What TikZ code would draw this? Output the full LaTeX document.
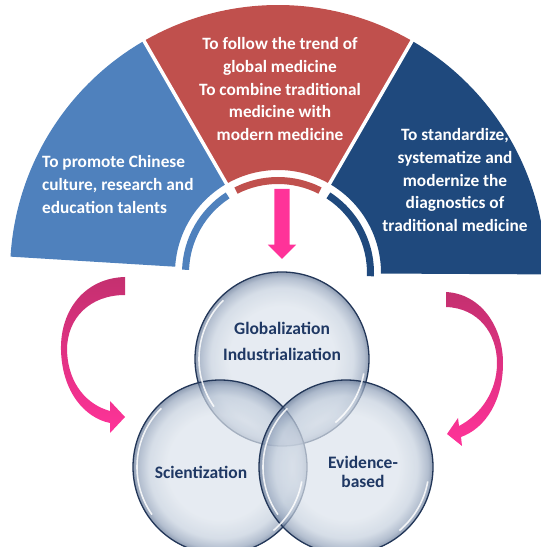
\documentclass[tikz,border=0pt]{standalone}
\usepackage{fontspec}
\setmainfont{Carlito}
\usetikzlibrary{shapes.arrows}

\definecolor{leftblue}{HTML}{4F81BD}
\definecolor{medred}{HTML}{C0504D}
\definecolor{darkblue}{HTML}{1F497D}
\definecolor{arrowpink}{HTML}{FF3399}
\definecolor{arrowdark}{HTML}{C4306F}
\definecolor{navytext}{HTML}{1F3864}
\definecolor{glassA}{HTML}{DCE3EC}
\definecolor{glassB}{HTML}{C4CFDD}
\definecolor{glassC}{HTML}{93A3BB}
\definecolor{glassD}{HTML}{5F7392}
\definecolor{glassrim}{HTML}{223658}
\pgfdeclareradialshading{glass}{\pgfpoint{0bp}{0bp}}{color(0bp)=(glassA); color(15bp)=(glassA); color(20.5bp)=(glassB); color(23.5bp)=(glassC); color(25bp)=(glassD); color(50bp)=(glassD)}

\begin{document}
\begin{tikzpicture}[
    x=1pt, y=1pt,
    sectext/.style={text=white, font=\bfseries\fontsize{17.3}{22.7}\selectfont, align=center, inner sep=0pt},
    bubble/.style={circle, draw=glassrim, line width=1.3pt, shade, shading=glass, fill opacity=0.7, minimum size=174pt, inner sep=0pt},
    shine/.style={white, line width=1.6pt, opacity=0.85},
    bubtext/.style={text=navytext, font=\bfseries\fontsize{17.5}{19.5}\selectfont, align=center, inner sep=0pt},
    downarrow/.style={single arrow, fill=arrowpink, draw=none, rotate=-90, minimum height=70pt, inner sep=7.5pt, single arrow head extend=6.5pt},
    curvearrow/.style={top color=arrowdark, bottom color=arrowpink}
]
    \useasboundingbox (0,0) rectangle (541,547);

    % Fan of three aims
    \coordinate (fan) at (278,274);
    \begin{scope}[shift={(fan)}]
        \fill[leftblue] (120:103) arc[start angle=120, end angle=176.5, radius=103] -- (176.5:268) arc[start angle=176.5, end angle=120, radius=268] -- cycle;
        \fill[medred] (60:103) arc[start angle=60, end angle=120, radius=103] -- (120:268) arc[start angle=120, end angle=60, radius=268] -- cycle;
        \fill[darkblue] (-0.3:103) arc[start angle=-0.3, end angle=60, radius=103] -- (60:268) arc[start angle=60, end angle=-0.3, radius=268] -- cycle;
        \draw[white, line width=3.5pt] (60:100) -- (60:272);
        \draw[white, line width=3.5pt] (120:100) -- (120:272);

        % inner bands
        \fill[leftblue] (123:89) arc[start angle=123, end angle=178, radius=89] -- (178:96) arc[start angle=178, end angle=123, radius=96] -- cycle;
        \fill[medred] (63:89) arc[start angle=63, end angle=117, radius=89] -- (117:96) arc[start angle=117, end angle=63, radius=96] -- cycle;
        \fill[darkblue] (-2:89) arc[start angle=-2, end angle=57, radius=89] -- (57:96) arc[start angle=57, end angle=-2, radius=96] -- cycle;
    \end{scope}

    % Texts of the fan
    \node[sectext, anchor=west, align=left] (promote) at (42,362.5) {To promote Chinese\\culture, research and\\education talents};
    \node[sectext] (follow) at (280,458) {To follow the trend of\\global medicine\\To combine traditional\\medicine with\\modern medicine};
    \node[sectext] (standard) at (455,367) {To standardize,\\systematize and\\modernize the\\diagnostics of\\traditional medicine};

    % Down arrow
    \node[downarrow] (down) at (282,327) {};

    % Curved arrows
    \shade[curvearrow] (125,270) .. controls (85,269) and (60,237) .. (61,197) .. controls (62,155) and (85,129) .. (110,124) -- (110,114) -- (125,130) -- (110,146) -- (110,136) .. controls (88,142) and (68,162) .. (67,197) .. controls (67,229) and (90,252) .. (125,252) -- cycle;
    \shade[curvearrow] (446,255) .. controls (482,253) and (503,219) .. (503,184) .. controls (503,147) and (486,119) .. (461,110) -- (462,101) -- (447,113) -- (458,129) -- (459,121) .. controls (480,132) and (497,155) .. (497,184) .. controls (497,214) and (478,239) .. (446,240) -- cycle;

    % Three circles
    \node[bubble] (glob) at (282,188) {};
    \node[bubble] (sci) at (220,80) {};
    \node[bubble] (evid) at (346,80) {};
    \foreach \c in {glob,sci,evid} {
        \draw[shine] ([shift={(135:83)}]\c.center) arc[start angle=135, end angle=215, radius=83];
        \draw[shine] ([shift={(-50:83)}]\c.center) arc[start angle=-50, end angle=-10, radius=83];
    }

    \node[bubtext, font=\bfseries\fontsize{17.5}{26}\selectfont] (globtext) at ([yshift=18]glob.center) {Globalization\\Industrialization};
    \node[bubtext] (scitext) at ([xshift=-19, yshift=-5]sci.center) {Scientization};
    \node[bubtext] (evidtext) at ([xshift=17, yshift=-5]evid.center) {Evidence-\\based};
\end{tikzpicture}
\end{document}
